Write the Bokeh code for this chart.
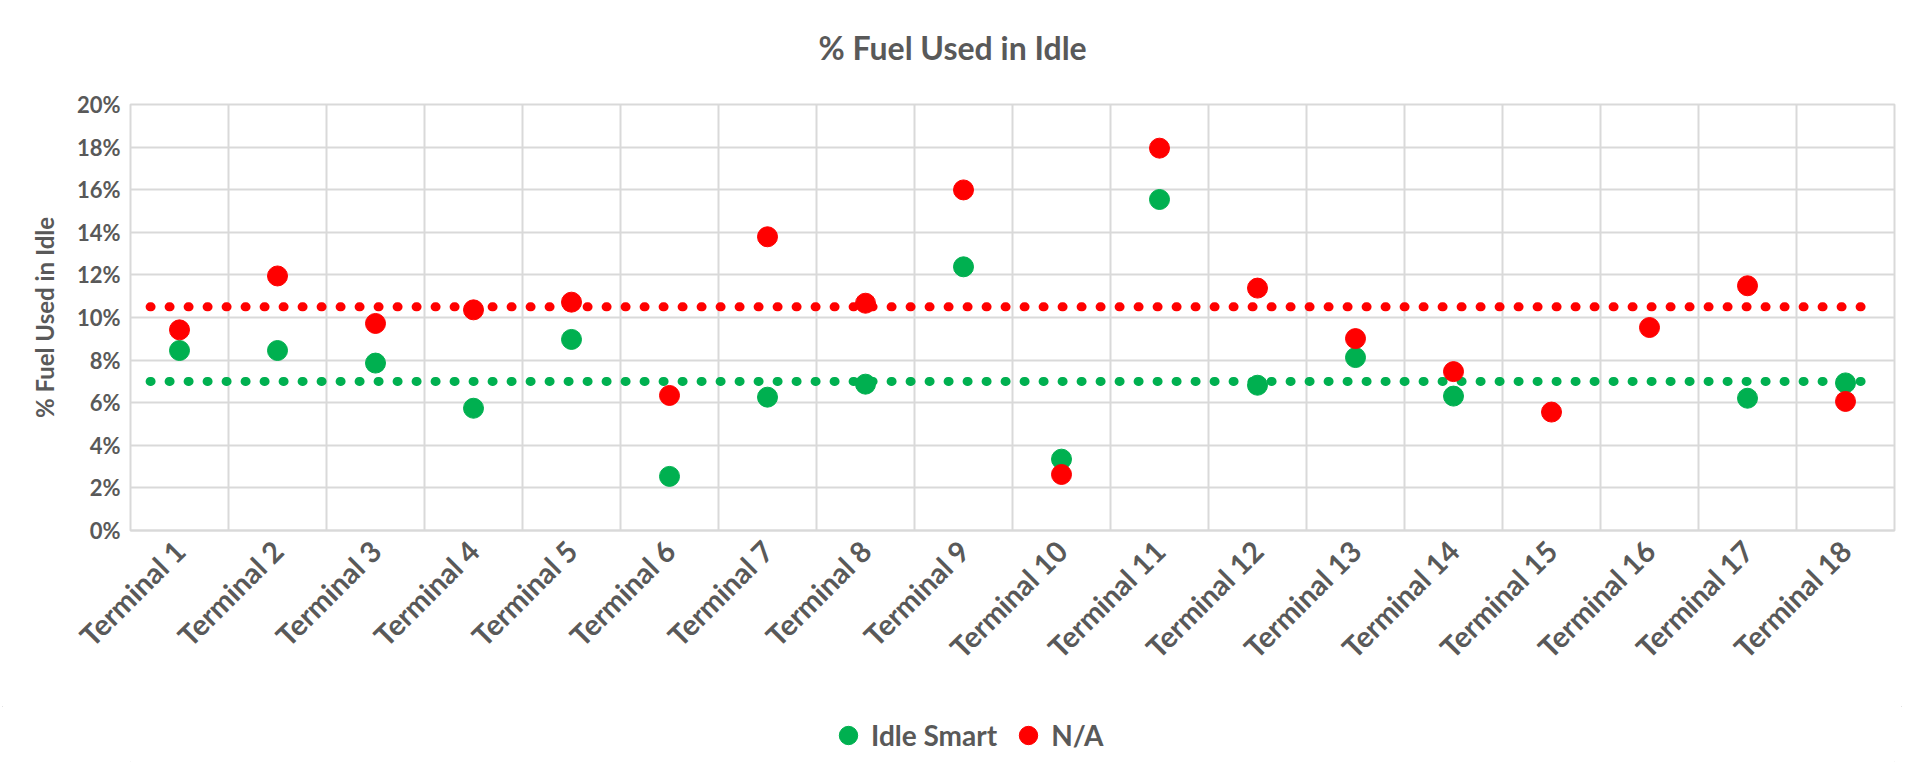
from math import pi, nan
from bokeh.plotting import figure
from bokeh.layouts import column
from bokeh.models import (ColumnDataSource, FactorRange, FixedTicker, Legend, LegendItem,
                          NumeralTickFormatter, Range1d, Title)
from bokeh.embed import file_html
from bokeh.resources import INLINE

# ---- data (percent) ----
terminals = [f"Terminal {i}" for i in range(1, 19)]
idle_smart = [8.45, 8.45, 7.86, 5.74, 8.97, 2.54, 6.26, 6.87, 12.38, 3.35,
              15.54, 6.82, 8.12, 6.31, nan, nan, 6.21, 6.93]
na_values = [9.42, 11.95, 9.72, 10.36, 10.72, 6.34, 13.79, 10.67, 15.99, 2.63,
             17.95, 11.38, 9.01, 7.46, 5.56, 9.53, 11.49, 6.06]
idle_smart_line = 7.0
na_line = 10.5
y_ticks = [0, 2, 4, 6, 8, 10, 12, 14, 16, 18, 20]

GREEN = "#00B050"
RED = "#FF0000"
TXT = "#595959"
GRID = "#D9D9D9"
FONT = "Lato"

src = ColumnDataSource(dict(
    t=terminals,
    g=[v / 100 for v in idle_smart],
    r=[v / 100 for v in na_values],
))

x_range = FactorRange(*terminals, range_padding=0, factor_padding=0)

p = figure(
    x_range=x_range,
    y_range=Range1d(0, y_ticks[-1] / 100),
    frame_width=1764, frame_height=426,
    output_backend="svg", toolbar_location=None, title=None,
    min_border_left=130, min_border_right=10, min_border_top=104, min_border_bottom=176,
    background_fill_color="white", border_fill_color="white",
)

# title (a blank spacer title sits between it and the frame)
p.add_layout(Title(text=" ", text_font_size="10px", standoff=25), "above")
p.add_layout(Title(text="% Fuel Used in Idle", align="left", offset=688, standoff=0,
                   text_font=FONT, text_font_size="32px", text_font_style="bold",
                   text_color=TXT), "above")

# frame and grids
p.outline_line_color = GRID
p.outline_line_width = 2
p.ygrid.ticker = FixedTicker(ticks=[t / 100 for t in y_ticks])
p.ygrid.grid_line_color = GRID
p.ygrid.grid_line_width = 2
p.xgrid.ticker = FixedTicker(ticks=list(range(len(terminals) + 1)))
p.xgrid.grid_line_color = GRID
p.xgrid.grid_line_width = 2

# y axis
p.yaxis.ticker = FixedTicker(ticks=[t / 100 for t in y_ticks])
p.yaxis.formatter = NumeralTickFormatter(format="0%")
p.yaxis.axis_line_color = None
p.yaxis.major_tick_line_color = None
p.yaxis.minor_tick_line_color = None
p.yaxis.major_label_standoff = 4
p.yaxis.major_label_text_font = FONT
p.yaxis.major_label_text_font_size = "22px"
p.yaxis.major_label_text_font_style = "bold"
p.yaxis.major_label_text_color = TXT
p.yaxis.axis_label = "% Fuel Used in Idle"
p.yaxis.axis_label_text_font = FONT
p.yaxis.axis_label_text_font_size = "24px"
p.yaxis.axis_label_text_font_style = "bold"
p.yaxis.axis_label_text_color = TXT
p.yaxis.axis_label_standoff = 15

# x axis
p.xaxis.axis_line_color = GRID
p.xaxis.axis_line_width = 2
p.xaxis.major_tick_line_color = None
p.xaxis.minor_tick_line_color = None
p.xaxis.major_label_orientation = pi / 4
p.xaxis.major_label_standoff = 9
p.xaxis.major_label_text_font = FONT
p.xaxis.major_label_text_font_size = "29px"
p.xaxis.major_label_text_font_style = "bold"
p.xaxis.major_label_text_color = TXT

# reference (dotted) lines
line_x = [(terminals[0], -0.3), (terminals[-1], 0.2)]
p.line(x=line_x, y=[idle_smart_line / 100] * 2, line_color=GREEN, line_width=9,
       line_dash="1 18", line_cap="round")
p.line(x=line_x, y=[na_line / 100] * 2, line_color=RED, line_width=9,
       line_dash="1 18", line_cap="round")

# series markers
p.scatter("t", "g", source=src, size=20, fill_color=GREEN, line_color=GREEN)
p.scatter("t", "r", source=src, size=20, fill_color=RED, line_color=RED)

# legend strip (same series, its own small canvas below the chart)
leg = figure(
    x_range=x_range, y_range=Range1d(1, 2),
    width=1904, height=58, output_backend="svg", toolbar_location=None,
    x_axis_location=None, y_axis_location=None, min_border=0,
    background_fill_color="white", border_fill_color="white",
)
leg.grid.visible = False
leg.outline_line_color = None
lg = leg.scatter("t", "g", source=src, size=20, fill_color=GREEN, line_color=GREEN)
lr = leg.scatter("t", "r", source=src, size=20, fill_color=RED, line_color=RED)
legend = Legend(
    items=[LegendItem(label="Idle Smart", renderers=[lg]),
           LegendItem(label="N/A", renderers=[lr])],
    orientation="horizontal", location=(695, 6),
    glyph_width=46, glyph_height=46, label_standoff=0, spacing=8,
    label_text_font=FONT, label_text_font_size="28px", label_text_font_style="bold",
    label_text_color=TXT, border_line_color=None, background_fill_alpha=0,
    margin=0, padding=0,
)
leg.add_layout(legend, "center")

layout = column(p, leg, spacing=0)
layout.styles = {"outline": "1px solid #D9D9D9", "outline-offset": "-3px"}

open("out.html", "w").write(file_html(layout, INLINE))
